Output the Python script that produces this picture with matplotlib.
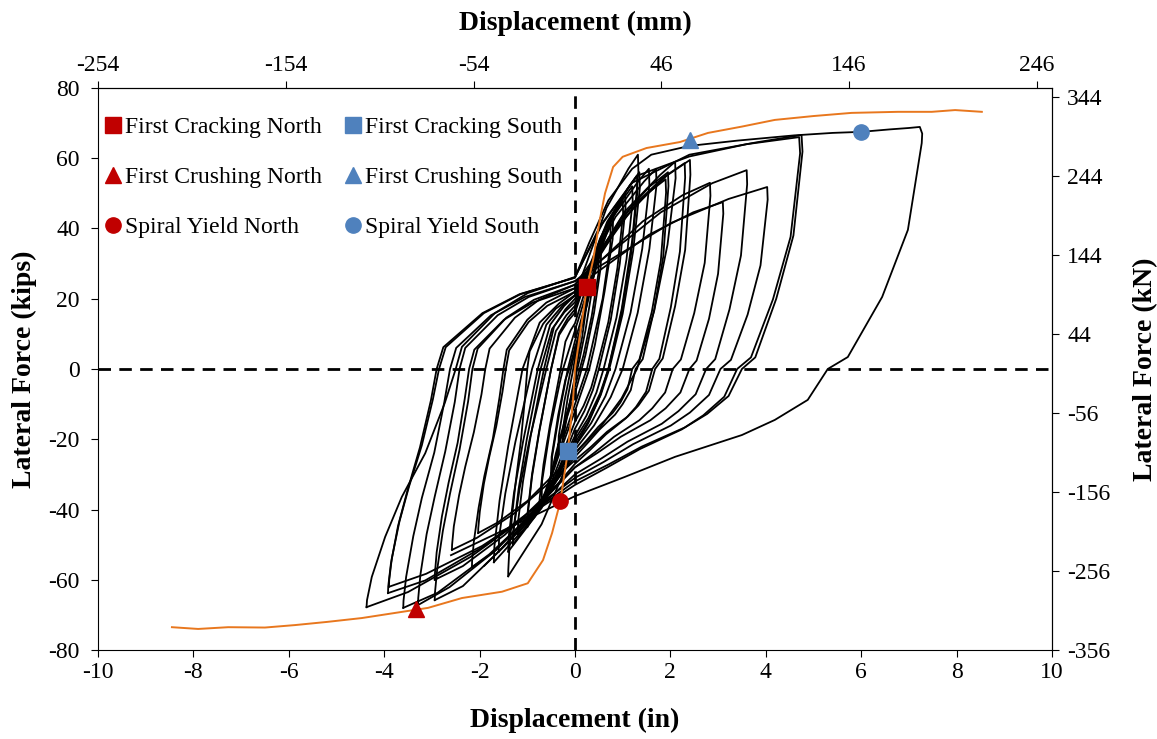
import matplotlib
matplotlib.use('Agg')
import matplotlib.pyplot as plt
import numpy as np

plt.rcParams['font.family'] = ['Liberation Serif', 'DejaVu Serif']
plt.rcParams['axes.unicode_minus'] = False

# hysteresis cycles, (disp in, force kips)
cycles = [
    [(0, 0), (0.1, 9), (0.2, 17), (0.25, 22), (0.24, 18), (0.15, 9), (0.05, 2), (0, -2), (-0.1, -9), (-0.2, -16), (-0.25, -20)],
    [(-0.25, -20), (-0.24, -16), (-0.15, -8), (-0.05, -1), (0, 3), (0.15, 13), (0.3, 22), (0.35, 26), (0.34, 21), (0.22, 11), (0.1, 3), (0, -3), (-0.15, -12), (-0.3, -20), (-0.35, -24)],
    [(-0.35, -24), (-0.34, -19), (-0.22, -9), (-0.1, -1), (0, 5), (0.2, 16), (0.4, 27), (0.5, 33), (0.49, 27), (0.35, 15), (0.18, 4), (0.1, 0), (0, -5), (-0.2, -14), (-0.4, -24), (-0.5, -30)],
    [(-0.5, -30), (-0.49, -25), (-0.35, -13), (-0.2, -3), (-0.12, 0), (0, 6), (0.25, 18), (0.45, 30), (0.55, 35), (0.54, 29), (0.4, 16), (0.22, 4), (0.14, 0), (0, -7), (-0.25, -17), (-0.42, -26), (-0.5, -31)],
    [(-0.5, -31), (-0.48, -25), (-0.32, -12), (-0.15, 0), (0, 8), (0.3, 22), (0.6, 36), (0.75, 42), (0.74, 35), (0.58, 20), (0.35, 6), (0.25, 0), (0, -10), (-0.3, -22), (-0.55, -32), (-0.7, -38)],
    [(-0.7, -38), (-0.69, -32), (-0.52, -17), (-0.32, -4), (-0.25, 0), (0, 11), (0.3, 24), (0.6, 37), (0.8, 44), (0.79, 37), (0.62, 22), (0.42, 7), (0.3, 0), (0, -12), (-0.35, -25), (-0.6, -35), (-0.75, -40)],
    [(-0.75, -40), (-0.74, -36.8), (-0.66, -27.2), (-0.525, -16), (-0.3, 0), (-0.2, 7.8), (-0.09, 11), (0, 13), (0.5, 34.7), (0.85, 44.5), (1.0, 48), (1.01, 44.2), (0.89, 28.8), (0.7, 13.4), (0.45, 0), (0.34, -5.3), (0.18, -10.5), (0, -15), (-0.5, -32.4), (-1.0, -44)],
    [(-1.0, -44), (-0.99, -40.5), (-0.9, -29.9), (-0.75, -17.6), (-0.5, 0), (-0.335, 9.6), (-0.15, 13.6), (0, 16), (0.525, 37.1), (0.89, 46.6), (1.05, 50), (1.06, 46), (0.94, 30), (0.75, 14), (0.5, 0), (0.375, -6), (0.2, -11.9), (0, -17), (-0.5, -33.8), (-1.0, -45)],
    [(-1.0, -45), (-0.99, -41.4), (-0.9, -30.6), (-0.75, -18), (-0.5, 0), (-0.335, 10.2), (-0.15, 14.5), (0, 17), (0.65, 40.6), (1.1, 51.2), (1.3, 55), (1.31, 50.6), (1.18, 33), (0.97, 15.4), (0.7, 0), (0.525, -7), (0.28, -14), (0, -20), (-0.65, -38), (-1.3, -50)],
    [(-1.3, -50), (-1.29, -46), (-1.16, -34), (-0.95, -20), (-0.6, 0), (-0.4, 10.8), (-0.18, 15.3), (0, 18), (0.6, 39.1), (1.02, 48.6), (1.2, 52), (1.21, 47.8), (1.08, 31.2), (0.87, 14.6), (0.6, 0), (0.45, -6.7), (0.24, -13.3), (0, -19), (-0.6, -35.8), (-1.2, -47)],
    [(-1.3, -50), (-1.29, -46), (-1.18, -34), (-1.01, -20), (-0.72, 0), (-0.48, 11.4), (-0.22, 16.2), (0, 19), (0.675, 41.9), (1.15, 52.3), (1.35, 56), (1.36, 51.5), (1.22, 33.6), (1.0, 15.7), (0.72, 0), (0.54, -7.4), (0.29, -14.7), (0, -21), (-0.7, -39.6), (-1.4, -52)],
    [(-1.2, -47), (-1.19, -43.2), (-1.09, -32), (-0.925, -18.8), (-0.65, 0), (-0.44, 12), (-0.2, 17), (0, 20), (0.775, 42.9), (1.32, 53.3), (1.55, 57), (1.56, 52.4), (1.41, 34.2), (1.165, 16), (0.85, 0), (0.64, -7.7), (0.34, -15.4), (0, -22), (-0.8, -40), (-1.6, -52)],
    [(-1.4, -52), (-1.39, -47.8), (-1.28, -35.4), (-1.09, -20.8), (-0.78, 0), (-0.52, 12.6), (-0.23, 17.9), (0, 21), (0.66, 45.8), (1.12, 57), (1.32, 61), (1.33, 56.1), (1.2, 36.6), (0.98, 17.1), (0.7, 0), (0.525, -7.7), (0.28, -15.4), (0, -22), (-0.7, -44.2), (-1.4, -59)],
    [(-1.6, -52), (-1.59, -47.8), (-1.46, -35.4), (-1.25, -20.8), (-0.9, 0), (-0.6, 12.6), (-0.27, 17.9), (0, 21), (0.85, 43.3), (1.45, 53.4), (1.7, 57), (1.71, 52.4), (1.56, 34.2), (1.315, 16), (1.0, 0), (0.75, -8), (0.4, -16.1), (0, -23), (-0.85, -42.2), (-1.7, -55)],
    [(-1.7, -55), (-1.69, -50.6), (-1.58, -37.4), (-1.4, -22), (-1.1, 0), (-0.74, 13.2), (-0.33, 18.7), (0, 22), (1.05, 44.9), (1.79, 55.3), (2.1, 59), (2.11, 54.3), (1.94, 35.4), (1.66, 16.5), (1.3, 0), (0.975, -8.4), (0.52, -16.8), (0, -24), (-0.95, -43.2), (-1.9, -56)],
    [(-1.4, -59), (-1.398, -57.2), (-1.376, -51.3), (-1.316, -41.3), (-1.24, -31.9), (-1.136, -20.7), (-1.048, -8.3), (-1.0, 0), (-0.95, 5), (-0.67, 12.8), (-0.4, 17.2), (0, 21), (0.95, 41.5), (1.52, 50), (1.9, 54), (1.91, 50.2), (1.8, 30.8), (1.61, 16.2), (1.35, 2.7), (1.2, 0), (1.1, -5.8), (0.95, -9.6), (0.79, -12.5), (0.48, -16.6), (0.24, -20.4), (0, -24), (-1.0, -37.6), (-1.62, -43.7), (-2.03, -46.7)],
    [(-2.03, -46.7), (-2.027, -45.3), (-1.995, -40.6), (-1.91, -32.7), (-1.8, -25.2), (-1.65, -16.3), (-1.52, -6.5), (-1.45, 0), (-1.38, 5.3), (-0.97, 13.4), (-0.58, 18), (0, 22), (0.98, 43.1), (1.56, 51.9), (1.95, 56), (1.96, 52.1), (1.85, 31.9), (1.66, 16.8), (1.42, 2.8), (1.27, 0), (1.17, -6), (1.0, -10), (0.84, -13), (0.51, -17.3), (0.25, -21.3), (0, -25), (-1.08, -43.8), (-1.73, -52.4), (-2.16, -56.4)],
    [(-2.16, -56.4), (-2.157, -54.7), (-2.12, -49.1), (-2.02, -39.5), (-1.9, -30.5), (-1.72, -19.7), (-1.58, -7.9), (-1.5, 0), (-1.43, 5.5), (-1.0, 14), (-0.6, 18.9), (0, 23), (1.2, 45.6), (1.93, 55.1), (2.41, 59.5), (2.42, 55.3), (2.31, 33.9), (2.1, 17.9), (1.84, 3), (1.68, 0), (1.55, -6.2), (1.33, -10.4), (1.11, -13.5), (0.67, -17.9), (0.34, -22.1), (0, -26), (-1.29, -41.3), (-2.06, -48.1), (-2.58, -51.5)],
    [(-2.58, -51.5), (-2.576, -50), (-2.54, -44.8), (-2.43, -36), (-2.3, -27.8), (-2.12, -18), (-1.96, -7.2), (-1.88, 0), (-1.79, 5.8), (-1.26, 14.6), (-0.75, 19.7), (0, 24), (1.15, 45.5), (1.84, 54.4), (2.3, 58.6), (2.31, 54.5), (2.2, 33.4), (2.01, 17.6), (1.77, 2.9), (1.62, 0), (1.49, -6.5), (1.28, -10.8), (1.07, -14), (0.65, -18.6), (0.32, -23), (0, -27), (-1.47, -50.3), (-2.35, -61.8), (-2.94, -65.8)],
    [(-2.94, -65.8), (-2.936, -63.8), (-2.89, -57.2), (-2.77, -46.1), (-2.62, -35.5), (-2.42, -23), (-2.24, -9.2), (-2.15, 0), (-2.04, 5.8), (-1.44, 14.6), (-0.86, 19.7), (0, 24), (1.42, 42), (2.26, 49.5), (2.83, 53), (2.84, 49.3), (2.72, 30.2), (2.5, 15.9), (2.22, 2.7), (2.05, 0), (1.89, -6.7), (1.62, -11.2), (1.35, -14.6), (0.82, -19.3), (0.41, -23.8), (0, -28), (-1.47, -47.2), (-2.35, -56.1), (-2.94, -60)],
    [(-2.94, -60), (-2.936, -58.2), (-2.9, -52.2), (-2.79, -42), (-2.65, -32.4), (-2.46, -21), (-2.31, -8.4), (-2.22, 0), (-2.11, 5.5), (-1.49, 14), (-0.89, 18.9), (0, 23), (1.55, 38.2), (2.48, 44.6), (3.1, 47.5), (3.11, 44.2), (3.0, 27.1), (2.81, 14.3), (2.55, 2.4), (2.4, 0), (2.21, -6.7), (1.9, -11.2), (1.58, -14.6), (0.96, -19.3), (0.48, -23.8), (0, -28), (-1.65, -51.5), (-2.63, -62.1), (-3.29, -67.2)],
    [(-3.29, -67.2), (-3.286, -65.2), (-3.24, -58.5), (-3.11, -47), (-2.94, -36.3), (-2.72, -23.5), (-2.52, -9.4), (-2.42, 0), (-2.3, 6), (-1.62, 15.3), (-0.97, 20.5), (0, 25), (1.8, 44.6), (2.88, 52.9), (3.6, 56.6), (3.61, 52.6), (3.48, 32.3), (3.24, 17), (2.94, 2.8), (2.75, 0), (2.53, -7.2), (2.17, -12), (1.82, -15.6), (1.1, -20.7), (0.55, -25.5), (0, -30), (-1.8, -52.8), (-2.88, -63.7), (-3.6, -68)],
    [(-3.6, -68), (-3.595, -66), (-3.54, -59.2), (-3.39, -47.6), (-3.21, -36.7), (-2.95, -23.8), (-2.74, -9.5), (-2.62, 0), (-2.49, 6), (-1.76, 15.3), (-1.05, 20.5), (0, 25), (2.02, 41.6), (3.22, 48.4), (4.03, 51.8), (4.04, 48.2), (3.89, 29.5), (3.62, 15.5), (3.27, 2.6), (3.05, 0), (2.81, -7.4), (2.41, -12.4), (2.01, -16.1), (1.22, -21.4), (0.61, -26.4), (0, -31), (-1.96, -50.9), (-3.14, -60.2), (-3.92, -63.8)],
    [(-3.92, -63.8), (-3.915, -61.9), (-3.86, -55.5), (-3.71, -44.7), (-3.51, -34.5), (-3.25, -22.3), (-3.02, -8.9), (-2.9, 0), (-2.76, 6.2), (-1.94, 15.9), (-1.16, 21.3), (0, 26), (0.5, 40), (1.2, 53), (2.4, 61), (3.8, 64.5), (4.75, 66.6), (4.77, 61.9), (4.58, 38), (4.22, 20), (3.78, 3.3), (3.5, 0), (3.22, -7.7), (2.77, -12.8), (2.31, -16.6), (1.4, -22.1), (0.7, -27.2), (0, -32), (-2.19, -53.5), (-3.5, -63.5), (-4.37, -67.8)],
    [(-4.37, -67.8), (-4.36, -65.8), (-4.26, -59.2), (-3.98, -47.8), (-3.63, -36.4), (-3.14, -24), (-2.73, -9.7), (-2.5, 0), (-2.37, 6.3), (-1.68, 15.9), (-0.99, 21.6), (0, 26.2), (0.6, 42), (1.3, 55), (2.4, 60.5), (3.6, 64), (4.7, 66), (4.72, 61.4), (4.52, 37.6), (4.15, 19.8), (3.69, 3.3), (3.4, 0), (3.13, -7.9), (2.69, -13.2), (2.24, -17.2), (1.36, -22.8), (0.68, -28), (0, -33), (-1.95, -50.4), (-3.12, -58.3), (-3.9, -62)],
    [(-3.9, -62), (-3.895, -60.1), (-3.84, -53.9), (-3.68, -43.4), (-3.48, -33.5), (-3.21, -21.7), (-2.98, -8.7), (-2.85, 0), (-2.71, 6.2), (-1.91, 15.9), (-1.14, 21.3), (0, 26), (0.3, 36), (0.7, 48), (1.2, 57), (1.6, 61), (2.4, 63.5), (3.4, 65), (4.6, 66.5), (5.4, 67.2), (6.0, 67.5), (6.6, 68.2), (7.0, 68.6), (7.23, 68.9), (7.28, 67), (7.27, 64.3), (6.98, 39.6), (6.44, 20.5), (5.72, 3.4), (5.3, 0), (4.88, -8.8), (4.19, -14.5), (3.5, -18.8), (2.1, -25), (1.05, -30.7), (0, -36.2), (-1.36, -45), (-2.6, -53)],
]

# backbone (orange)
bb_x = [-8.45, -7.9, -7.27, -6.5, -5.87, -5.2, -4.47, -3.8, -3.08, -2.37, -1.53, -0.99, -0.67, -0.48, -0.31, -0.15, -0.04, 0.0, 0.25, 0.38, 0.52, 0.63, 0.8, 1.0, 1.5, 2.2, 2.79, 3.5, 4.19, 5.0, 5.8, 6.77, 7.48, 7.97, 8.53]
bb_y = [-73.5, -74.0, -73.5, -73.6, -72.9, -72.0, -70.9, -69.5, -68.0, -65.2, -63.4, -61.0, -54.4, -46.7, -37.9, -23.6, -8.8, 0.0, 23.3, 31.0, 42.4, 50.0, 57.5, 60.4, 62.9, 64.6, 67.2, 69.0, 70.9, 72.0, 72.9, 73.2, 73.2, 73.7, 73.2]

# damage states
labels = ['First Cracking North', 'First Cracking South', 'First Crushing North',
          'First Crushing South', 'Spiral Yield North', 'Spiral Yield South']
ev_x = [0.25, -0.15, -3.33, 2.41, -0.31, 5.99]
ev_y = [23.3, -23.3, -68.3, 65.3, -37.6, 67.4]
ev_marker = ['s', 's', '^', '^', 'o', 'o']
ev_color = ['#C00000', '#4F81BD', '#C00000', '#4F81BD', '#C00000', '#4F81BD']

mm_ticks = [-254, -154, -54, 46, 146, 246]
kn_ticks = [-356, -256, -156, -56, 44, 144, 244, 344]

fig = plt.figure(figsize=(11.57, 7.39), dpi=100)
ax = fig.add_axes([0.0847, 0.1204, 0.8245, 0.7606])

for c in cycles:
    pts = np.array(c)
    ax.plot(pts[:, 0], pts[:, 1], color='black', lw=1.3, zorder=2)
ax.plot(bb_x, bb_y, color='#E8771E', lw=1.4, zorder=3)
ax.axhline(0, color='black', ls=(0, (4.5, 3)), lw=2, zorder=1)
ax.axvline(0, color='black', ls=(0, (4.5, 3)), lw=2, zorder=1)

# legend fills column-wise: North column then South column
order = [0, 2, 4, 1, 3, 5]
for i in order:
    ax.plot(ev_x[i], ev_y[i], ls='none', marker=ev_marker[i], color=ev_color[i],
            ms=11, label=labels[i], zorder=5)

ax.set_xlim(-10, 10)
ax.set_ylim(-80, 80)
ax.set_xticks(np.arange(-10, 11, 2))
ax.set_yticks(np.arange(-80, 81, 20))
ax.tick_params(direction='out', length=5, labelsize=17)
ax.tick_params(axis='y', pad=8)
ax.set_xlabel('Displacement (in)', fontsize=20, fontweight='bold', labelpad=18)
ax.set_ylabel('Lateral Force (kips)', fontsize=20, fontweight='bold', labelpad=8)

top = ax.secondary_xaxis('top', functions=(lambda x: x * 25.4, lambda x: x / 25.4))
top.set_xticks(mm_ticks)
top.tick_params(direction='out', length=5, labelsize=17)
top.set_xlabel('Displacement (mm)', fontsize=20, fontweight='bold', labelpad=18)

right = ax.secondary_yaxis('right', functions=(lambda y: y * 4.44822, lambda y: y / 4.44822))
right.set_yticks([t + 0.2 for t in kn_ticks], labels=[str(t) for t in kn_ticks])
right.tick_params(direction='out', length=5, labelsize=17, pad=6)
right.set_ylabel('Lateral Force (kN)', fontsize=20, fontweight='bold', labelpad=16)

ax.legend(loc='upper left', ncol=2, frameon=False, fontsize=17, handlelength=0.6,
          handletextpad=0.2, columnspacing=1.03, labelspacing=1.2,
          borderaxespad=0, borderpad=0.5, bbox_to_anchor=(-0.004, 0.97))

fig.savefig('out.png', dpi=100)
